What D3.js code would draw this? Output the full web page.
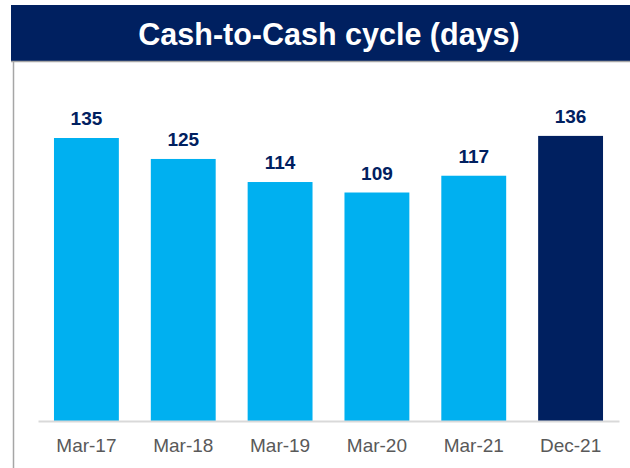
<!DOCTYPE html>
<html>
<head>
<meta charset="utf-8">
<script src="https://cdn.jsdelivr.net/npm/d3@7"></script>
<style>
  body { margin: 0; background: #fff; }
  text { font-family: "Liberation Sans", Arial, sans-serif; }
</style>
</head>
<body>
<script>
// Chart data
const periods = ["Mar-17", "Mar-18", "Mar-19", "Mar-20", "Mar-21", "Dec-21"];
const cycleDays = [135, 125, 114, 109, 117, 136];
const highlight = [false, false, false, false, false, true];
const title = "Cash-to-Cash cycle (days)";

const W = 630, H = 468;
const navy = "#002060", light = "#00b0f0";

const svg = d3.select("body")
  .append("svg")
  .attr("width", W)
  .attr("height", H);

// Title banner
svg.append("rect")
  .attr("x", 11).attr("y", 5)
  .attr("width", W - 11).attr("height", 56)
  .attr("fill", navy);
svg.append("line")
  .attr("x1", 11).attr("x2", W)
  .attr("y1", 61.5).attr("y2", 61.5)
  .attr("stroke", "#a6a6a6").attr("stroke-width", 1.5);
svg.append("text")
  .attr("x", 329)
  .attr("y", 45)
  .attr("text-anchor", "middle")
  .attr("fill", "#fff")
  .style("font-size", "30.5px")
  .style("font-weight", "bold")
  .text(title);

// Left frame line
svg.append("line")
  .attr("x1", 13.5).attr("x2", 13.5)
  .attr("y1", 62).attr("y2", H)
  .attr("stroke", "#a6a6a6").attr("stroke-width", 1.5);

// Scales
const x = d3.scaleBand()
  .domain(periods)
  .range([38, 619])
  .paddingInner(0.33)
  .paddingOuter(0.165);

const y = d3.scaleLinear()
  .domain([0, 135])
  .range([421, 138]);

const data = periods.map((p, i) => ({ period: p, value: cycleDays[i], hi: highlight[i] }));

// Bars
svg.selectAll(".bar")
  .data(data)
  .enter()
  .append("rect")
  .attr("class", "bar")
  .attr("x", d => x(d.period))
  .attr("y", d => y(d.value))
  .attr("width", x.bandwidth())
  .attr("height", d => y(0) - y(d.value))
  .attr("fill", d => d.hi ? navy : light);

// Value labels
svg.selectAll(".val")
  .data(data)
  .enter()
  .append("text")
  .attr("class", "val")
  .attr("x", d => x(d.period) + x.bandwidth() / 2)
  .attr("y", d => y(d.value) - 13)
  .attr("text-anchor", "middle")
  .attr("fill", navy)
  .style("font-size", "19px")
  .style("font-weight", "bold")
  .text(d => d.value);

// X axis
const xAxis = svg.append("g")
  .attr("transform", `translate(0, ${y(0)})`)
  .call(d3.axisBottom(x).tickSize(0).tickPadding(16).tickSizeOuter(0));
xAxis.select(".domain").attr("stroke", "#d9d9d9").attr("stroke-width", 2);
xAxis.selectAll("text")
  .attr("fill", "#595959")
  .attr("dy", "0")
  .attr("y", 31)
  .style("font-size", "19px")
  .style("font-family", "Liberation Sans, Arial, sans-serif");
</script>
</body>
</html>
